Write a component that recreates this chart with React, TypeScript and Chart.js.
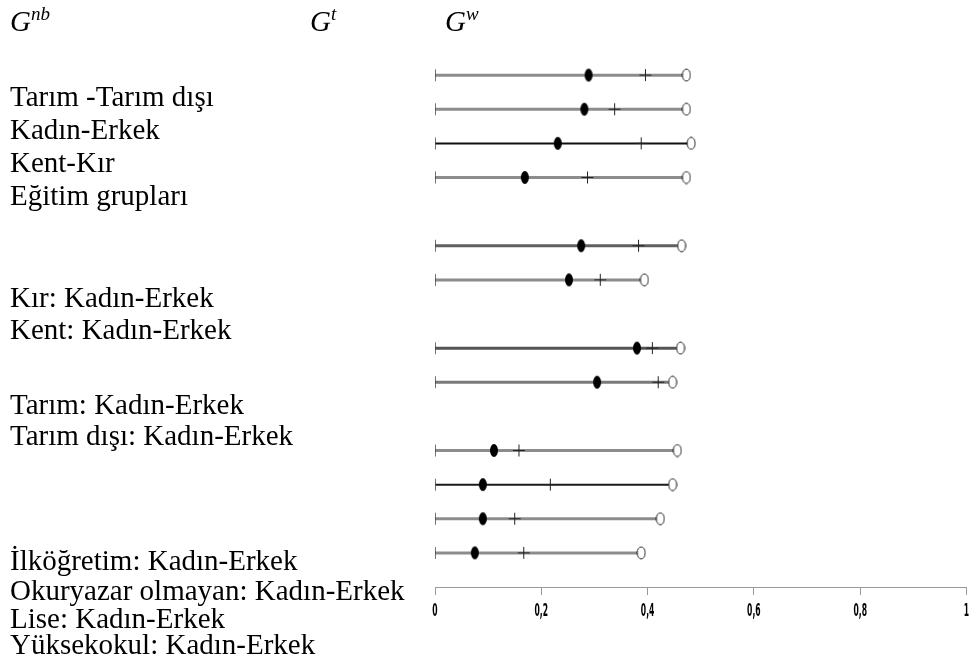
import React, { useEffect, useRef } from "react";
import { Chart, registerables } from "chart.js";

Chart.register(...registerables);

// Row positions (in row units, top to bottom; gaps separate the groups)
const rowPos = [0, 1, 2, 3, 5, 6, 8, 9, 11, 12, 13, 14];
// G^nb (filled dot)
const gnb = [0.289, 0.281, 0.231, 0.169, 0.275, 0.252, 0.38, 0.305, 0.111, 0.09, 0.09, 0.075];
// G^t (plus)
const gt = [0.396, 0.338, 0.388, 0.287, 0.383, 0.311, 0.409, 0.42, 0.158, 0.217, 0.15, 0.167];
// G^w (open circle, end of line)
const gw = [0.473, 0.473, 0.482, 0.473, 0.464, 0.394, 0.462, 0.447, 0.456, 0.447, 0.424, 0.388];
const lineColors = ["#8c8c8c", "#8c8c8c", "#111111", "#8c8c8c", "#606060", "#8c8c8c", "#555555", "#7a7a7a", "#8c8c8c", "#1a1a1a", "#8c8c8c", "#8c8c8c"];
const lineWidths = [3, 3, 2, 3, 3, 3, 3, 3, 3, 2, 3, 3];
const xTicks = [0, 0.2, 0.4, 0.6, 0.8, 1];
const xTickLabels = ["0", "0,2", "0,4", "0,6", "0,8", "1"];

const labels: { text: string; baseline: number }[] = [
  { text: "Tarım -Tarım dışı", baseline: 107 },
  { text: "Kadın-Erkek", baseline: 140 },
  { text: "Kent-Kır", baseline: 173 },
  { text: "Eğitim grupları", baseline: 206 },
  { text: "Kır: Kadın-Erkek", baseline: 308 },
  { text: "Kent: Kadın-Erkek", baseline: 340 },
  { text: "Tarım: Kadın-Erkek", baseline: 415 },
  { text: "Tarım dışı: Kadın-Erkek", baseline: 446 },
  { text: "İlköğretim: Kadın-Erkek", baseline: 571 },
  { text: "Okuryazar olmayan: Kadın-Erkek", baseline: 601 },
  { text: "Lise: Kadın-Erkek", baseline: 629 },
  { text: "Yüksekokul: Kadın-Erkek", baseline: 655 },
];

const headers = [
  { base: "G", sup: "nb", x: 10 },
  { base: "G", sup: "t", x: 310 },
  { base: "G", sup: "w", x: 445 },
];

function ellipseCanvas(w: number, h: number, filled: boolean) {
  const c = document.createElement("canvas");
  c.width = w + 2;
  c.height = h + 2;
  const ctx = c.getContext("2d")!;
  ctx.beginPath();
  ctx.ellipse((w + 2) / 2, (h + 2) / 2, w / 2, h / 2, 0, 0, Math.PI * 2);
  if (filled) {
    ctx.fillStyle = "#000";
    ctx.fill();
  } else {
    ctx.fillStyle = "#fff";
    ctx.fill();
    ctx.strokeStyle = "#222";
    ctx.lineWidth = 1;
    ctx.stroke();
  }
  return c;
}

const narrowTicks = {
  id: "narrowTicks",
  afterDraw(chart: any) {
    const s = chart.scales.x;
    const ctx = chart.ctx;
    ctx.save();
    ctx.fillStyle = "#000";
    ctx.font = "bold 17px 'DejaVu Sans', sans-serif";
    ctx.textAlign = "center";
    ctx.textBaseline = "middle";
    xTicks.forEach((v, i) => {
      const x = s.getPixelForValue(v);
      ctx.save();
      ctx.translate(x, s.top + 25);
      ctx.scale(0.45, 1);
      ctx.fillText(xTickLabels[i], 0, 0);
      ctx.restore();
    });
    ctx.restore();
  },
};

export default function App() {
  const ref = useRef<HTMLCanvasElement | null>(null);
  useEffect(() => {
    if (!ref.current) return;
    const dot = ellipseCanvas(8, 13, true);
    const ring = ellipseCanvas(8, 12, false);
    const lineSets = rowPos.map((k, i) => ({
      data: [
        { x: 0, y: k },
        { x: gw[i], y: k },
      ],
      showLine: true,
      borderColor: lineColors[i],
      borderWidth: lineWidths[i],
      pointRadius: 0,
      order: 10,
    }));
    const chart = new Chart(ref.current, {
      type: "scatter",
      data: {
        datasets: [
          {
            data: rowPos.map((k, i) => ({ x: gnb[i], y: k })),
            pointStyle: dot as any,
            order: 0,
          },
          {
            data: rowPos.map((k, i) => ({ x: gw[i], y: k })),
            pointStyle: ring as any,
            order: 1,
          },
          {
            data: rowPos.map((k, i) => ({ x: gt[i], y: k })),
            pointStyle: "cross",
            pointRadius: 6,
            borderColor: "#222",
            borderWidth: 1,
            order: 2,
          },
          {
            data: rowPos.map((k) => ({ x: 0, y: k })),
            pointStyle: "line",
            rotation: 90,
            pointRadius: 6,
            borderColor: "#444",
            borderWidth: 1.5,
            order: 3,
          },
          ...lineSets,
        ] as any,
      },
      options: {
        responsive: false,
        animation: false,
        events: [],
        layout: { padding: { left: 435, right: 6, top: 41, bottom: 0 } },
        plugins: { legend: { display: false }, tooltip: { enabled: false } },
        scales: {
          x: {
            type: "linear",
            min: 0,
            max: 1,
            afterBuildTicks: (s: any) => {
              s.ticks = xTicks.map((v) => ({ value: v }));
            },
            afterFit: (s: any) => {
              s.height = 69;
            },
            grid: { drawOnChartArea: false, drawTicks: true, tickLength: 8, color: "#999" },
            border: { color: "#999", width: 1 },
            ticks: { display: false },
          },
          y: {
            type: "linear",
            display: false,
            min: -1,
            max: 15,
            reverse: true,
          },
        },
      } as any,
      plugins: [narrowTicks],
    });
    return () => chart.destroy();
  }, []);

  const serif = "'Liberation Serif', 'Times New Roman', serif";
  return (
    <div style={{ position: "absolute", left: 0, top: 0, width: 974, height: 656, background: "#fff", overflow: "hidden" }}>
      <canvas ref={ref} width={974} height={656} style={{ position: "absolute", left: 0, top: 0, width: 974, height: 656 }} />
      {headers.map((h, i) => (
        <div
          key={i}
          style={{
            position: "absolute",
            left: h.x,
            top: 32 - 25,
            fontFamily: serif,
            fontStyle: "italic",
            fontSize: 29,
            lineHeight: "29px",
            whiteSpace: "nowrap",
            color: "#000",
          }}
        >
          {h.base}
          <span style={{ fontSize: 19, position: "relative", top: -11 }}>{h.sup}</span>
        </div>
      ))}
      {labels.map((l, i) => (
        <div
          key={i}
          style={{
            position: "absolute",
            left: 10,
            top: l.baseline - 25,
            fontFamily: serif,
            fontSize: 29,
            lineHeight: "29px",
            whiteSpace: "nowrap",
            color: "#000",
          }}
        >
          {l.text}
        </div>
      ))}
    </div>
  );
}
